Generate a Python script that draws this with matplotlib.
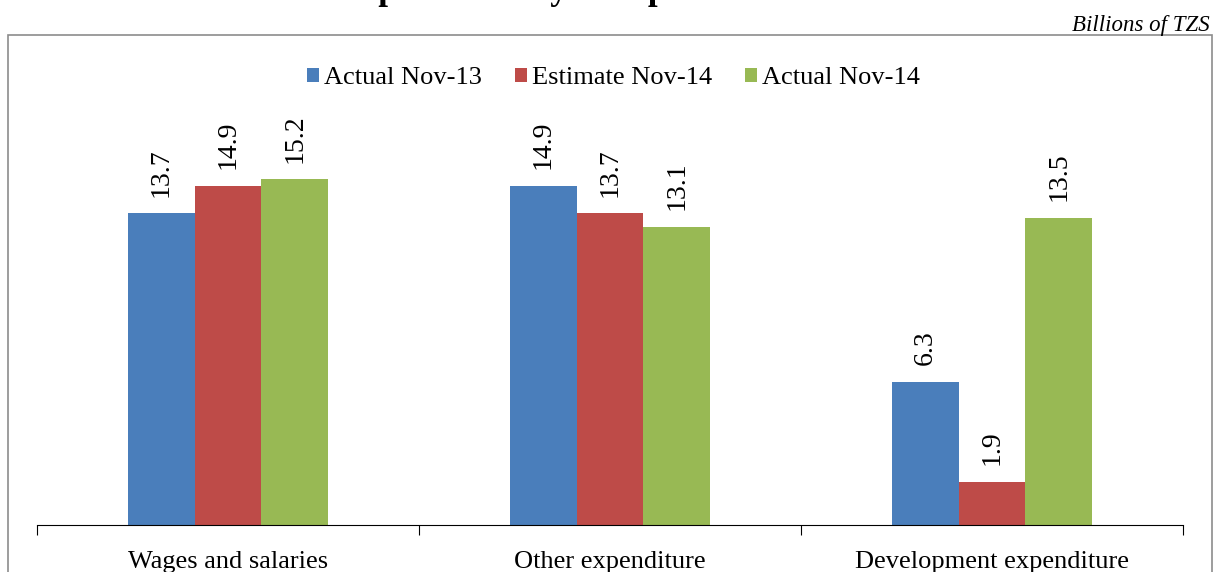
import numpy as np
import matplotlib.pyplot as plt
from matplotlib.patches import Rectangle

plt.rcParams['font.family'] = ['Liberation Serif', 'DejaVu Serif']

categories = ['Wages and salaries', 'Other expenditure', 'Development expenditure']
series = ['Actual Nov-13', 'Estimate Nov-14', 'Actual Nov-14']
actual_nov13 = [13.7, 14.9, 6.3]
estimate_nov14 = [14.9, 13.7, 1.9]
actual_nov14 = [15.2, 13.1, 13.5]
colors = ['#4A7EBB', '#BE4B48', '#98B954']

W, H = 1215, 572
fig = plt.figure(figsize=(W / 100, H / 100), dpi=100)
ax = fig.add_axes([37 / W, 47 / H, (1183 - 37) / W, (525 - 70) / H])

# outer frame, runs off the bottom of the picture
fig.patches.append(Rectangle((8 / W, -0.1), (1212 - 8) / W, 1.1 - 35 / H,
                             transform=fig.transFigure, fill=False,
                             edgecolor='#8c8c8c', lw=1.2))

x = np.arange(len(categories))
bw = 0.175
for i, (vals, name) in enumerate(zip([actual_nov13, estimate_nov14, actual_nov14], series)):
    bars = ax.bar(x + (i - 1) * bw, vals, bw, color=colors[i], label=name)
    for b, v in zip(bars, vals):
        ax.annotate(f'{v:.1f}', (b.get_x() + b.get_width() / 2, v),
                    xytext=(0, 12), textcoords='offset points',
                    rotation=90, ha='center', va='bottom', fontsize=20)

ax.set_xlim(-0.5, len(categories) - 0.5)
ax.set_ylim(0, 20)
ax.set_yticks([])
for s in ['top', 'right', 'left']:
    ax.spines[s].set_visible(False)
ax.spines['bottom'].set_color('black')
ax.set_xticks(np.arange(len(categories) + 1) - 0.5, minor=False)
ax.set_xticklabels([])
ax.tick_params(axis='x', direction='out', length=7, color='black')
for xi, c in zip(x, categories):
    ax.text(xi, -1.15, c, ha='center', va='top', fontsize=19,
            transform=ax.transData)

ax.legend(loc='upper center', bbox_to_anchor=(0.503, 1.058), ncol=3, frameon=False,
          fontsize=19, handlelength=0.45, handleheight=0.45, handletextpad=0.2,
          columnspacing=1.25)

fig.text(1210 / W, 1 - 31 / H, 'Billions of TZS', ha='right', va='baseline',
         fontsize=16.5, style='italic')
# title is cut off by the top edge, as in the source
fig.text(7 / W, 1 + 1 / H, 'Chart 2: Government Expenditure by Components',
         ha='left', va='baseline', fontsize=25, weight='bold')

fig.savefig('out.png', dpi=100)
